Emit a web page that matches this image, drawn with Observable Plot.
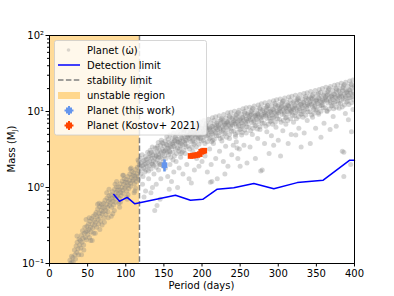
<!DOCTYPE html>
<html>
<head>
<meta charset="utf-8">
<script src="https://cdn.jsdelivr.net/npm/d3@7"></script>
<script src="https://cdn.jsdelivr.net/npm/@observablehq/plot@0.6"></script>
<style>
  html, body { margin: 0; padding: 0; background: #fff; }
  #chart { width: 394px; height: 296px; }
  svg { font-family: "DejaVu Sans", sans-serif; }
</style>
</head>
<body>
<div id="chart"></div>
<script>
// ---- data ----
const xTicks = [0, 50, 100, 150, 200, 250, 300, 350, 400];
const yTicks = [0.1, 1, 10, 100];
const yTickLabels = ["10\u207B\u00B9", "10\u2070", "10\u00B9", "10\u00B2"];
const yMinorTicks = [0.2,0.3,0.4,0.5,0.6,0.7,0.8,0.9,2,3,4,5,6,7,8,9,20,30,40,50,60,70,80,90];

const stabilityLimit = 118; // days

// Simulated planets (period days, mass M_J)
const planetsInner = [
 [25.4,0.095],[26.8,0.11],[27.5,0.10],[28.9,0.125],[29.3,0.105],[28.1,0.09],
 [30.6,0.12],[31.2,0.105],[32.7,0.15],[33.4,0.13],[34.1,0.115],[34.9,0.17],[35.8,0.14],[36.3,0.19],[37.5,0.155],[38.2,0.13],[38.8,0.21],[39.6,0.175],
 [40.4,0.20],[41.1,0.16],[41.9,0.235],[42.6,0.19],[43.3,0.27],[44.0,0.215],[44.8,0.175],[45.5,0.25],[46.3,0.30],[46.9,0.22],[47.7,0.26],[48.4,0.205],[49.1,0.31],[49.7,0.27],
 [50.3,0.24],[51.0,0.33],[51.8,0.28],[52.4,0.22],[53.1,0.36],[53.9,0.30],[54.5,0.26],[55.2,0.39],[55.9,0.33],[56.6,0.29],[57.3,0.42],[57.9,0.25],[58.6,0.37],[59.2,0.32],[59.8,0.44],[54.0,0.20],
 [60.5,0.35],[61.2,0.47],[61.8,0.30],[62.5,0.41],[63.1,0.52],[63.8,0.38],[64.4,0.33],[65.0,0.46],[65.7,0.56],[66.3,0.42],[67.0,0.36],[67.6,0.50],[68.3,0.60],[68.9,0.45],[69.5,0.55],[66.0,0.28],
 [70.2,0.48],[70.9,0.62],[71.5,0.40],[72.2,0.54],[72.8,0.68],[73.5,0.50],[74.1,0.44],[74.8,0.60],[75.4,0.73],[76.1,0.55],[76.7,0.48],[77.4,0.66],[78.0,0.78],[78.7,0.58],[79.3,0.70],[77.0,0.40],
 [80.1,0.63],[80.8,0.80],[81.4,0.55],[82.1,0.72],[82.7,0.88],[83.4,0.66],[84.0,0.59],[84.7,0.78],[85.3,0.95],[86.0,0.72],[86.6,0.64],[87.3,0.86],[87.9,1.02],[88.6,0.77],[89.2,0.92],[85.0,0.50],
 [90.1,0.82],[90.7,1.02],[91.4,0.72],[92.0,0.93],[92.7,1.12],[93.3,0.86],[94.0,0.78],[94.6,1.00],[95.3,1.22],[95.9,0.92],[96.6,0.84],[97.2,1.10],[97.9,1.30],[98.5,0.98],[99.2,1.17],[93.0,0.64],
 [100.1,1.03],[100.8,1.27],[101.4,0.90],[102.1,1.16],[102.7,1.40],[103.4,1.07],[104.0,0.97],[104.7,1.24],[105.3,1.50],[106.0,1.14],[106.6,1.04],[107.3,1.35],[107.9,1.62],[108.6,1.22],[109.2,1.44],[103.0,0.80],
 [110.1,1.26],[110.7,1.55],[111.4,1.12],[112.0,1.42],[112.7,1.72],[113.3,1.32],[114.0,1.20],[114.6,1.52],[115.3,1.85],[115.9,1.40],[116.6,1.28],[117.2,1.65],[117.8,1.98],[113.0,0.98],
 [36,0.23],[42,0.13],[45,0.15],[48,0.38],[52,0.40],[56,0.20],[60,0.25],[63,0.60],[65,0.62],[69,0.32],[72,0.35],[75,0.85],[78,0.95],[81,0.42],[83,0.45],[86,1.1],[88,1.2],[91,0.62],[92,0.55],[96,1.45],[97,1.45],[101,0.75],[102,0.7],[106,1.75],[107,1.8],[111,0.85],[112,0.9],[116,2.3],[117,2.2]
];
const planetsOuter = [
 [118.4,1.9],[119.1,2.4],[119.7,1.5],[120.2,2.1],[120.9,1.75],[121.5,2.7],[122.0,1.95],[122.6,1.4],[123.3,2.25],[123.8,1.8],[124.4,2.0],[125.1,1.6],[125.7,2.55],[126.2,2.05],[126.9,1.7],[127.4,2.35],[128.0,1.9],[128.7,2.9],[129.2,2.15],[129.8,1.65],
 [130.3,2.5],[130.8,1.9],[131.6,2.2],[132.1,3.1],[132.5,2.6],[133.2,1.75],[133.9,2.4],[134.3,2.05],[134.8,3.4],[135.6,2.7],[136.0,2.25],[136.7,1.95],[137.3,2.9],[137.8,2.45],[138.5,3.3],[138.9,2.15],[139.4,2.6],[139.9,1.85],[131.0,2.8],[135.2,2.0],
 [140.2,2.6],[140.9,3.3],[141.3,2.3],[142.0,2.95],[142.6,3.9],[143.1,2.7],[143.7,2.1],[144.4,3.1],[144.9,2.5],[145.5,3.6],[146.1,2.85],[146.6,4.2],[147.2,2.4],[147.9,3.2],[148.3,2.75],[148.8,3.8],[149.5,2.2],[149.9,3.0],[141.7,3.5],[145.0,2.0],
 [150.4,3.5],[150.9,2.6],[151.6,4.1],[152.2,3.1],[152.7,2.4],[153.3,3.7],[153.8,4.7],[154.5,2.9],[155.0,3.3],[155.7,4.3],[156.1,2.7],[156.8,3.9],[157.4,3.0],[157.9,4.9],[158.5,3.4],[159.1,2.5],[159.6,3.8],[151.2,3.0],[154.1,3.6],[158.0,2.9],
 [160.3,3.4],[160.9,4.4],[161.4,2.9],[162.0,3.9],[162.7,5.2],[163.2,3.5],[163.8,2.6],[164.5,4.1],[165.0,3.2],[165.6,4.8],[166.2,3.7],[166.9,2.8],[167.3,4.3],[167.9,3.3],[168.6,5.4],[169.1,3.9],[169.7,3.0],[161.7,3.7],[164.9,4.6],[168.2,4.0],
 [170.4,4.3],[170.8,3.2],[171.5,5.0],[172.1,3.8],[172.6,2.8],[173.3,4.5],[173.9,5.8],[174.4,3.6],[175.0,4.1],[175.7,5.3],[176.2,3.1],[176.8,4.7],[177.5,3.9],[178.0,6.0],[178.6,4.2],[179.2,3.4],[179.8,4.9],[171.0,4.0],[174.9,4.4],[177.9,3.7],
 [180.3,4.2],[180.9,5.4],[181.5,3.5],[182.0,4.8],[182.6,6.4],[183.2,4.4],[183.7,3.2],[184.3,5.1],[185.0,4.0],[185.5,5.9],[186.1,4.6],[186.8,3.4],[187.3,5.3],[187.9,4.1],[188.4,6.7],[189.0,4.9],[189.7,3.7],[181.0,4.6],[184.8,5.6],[188.0,4.3],
 [190.2,5.2],[190.8,3.9],[191.4,6.1],[192.0,4.6],[192.5,3.4],[193.1,5.5],[193.8,7.1],[194.3,4.3],[194.9,5.0],[195.6,6.5],[196.1,3.7],[196.7,5.7],[197.3,4.7],[197.8,7.3],[198.5,5.1],[199.1,4.1],[199.6,6.0],[191.0,4.9],[194.0,5.4],[198.0,4.4],
 [200.3,5.0],[200.9,6.5],[201.5,4.2],[202.1,5.7],[202.6,7.6],[203.2,5.2],[203.8,3.8],[204.4,6.1],[205.0,4.8],[205.6,7.0],[206.1,5.5],[206.8,4.0],[207.3,6.3],[207.9,4.9],[208.5,7.9],[209.0,5.8],[209.6,4.4],[201.0,5.4],[204.9,6.7],[208.1,5.1],
 [210.2,6.1],[210.8,4.5],[211.4,7.1],[212.0,5.4],[212.6,4.0],[213.2,6.4],[213.7,8.3],[214.3,5.0],[214.9,5.8],[215.5,7.6],[216.1,4.3],[216.7,6.7],[217.3,5.5],[217.9,8.5],[218.4,6.0],[219.0,4.8],[219.6,7.0],[211.0,5.7],[214.0,6.3],[218.0,5.2],
 [220.3,5.8],[220.9,7.5],[221.5,4.8],[222.1,6.6],[222.6,8.8],[223.2,6.0],[223.8,4.4],[224.4,7.0],[225.0,5.5],[225.6,8.1],[226.1,6.3],[226.8,4.6],[227.3,7.3],[227.9,5.7],[228.5,9.1],[229.0,6.7],[229.6,5.1],[221.0,6.2],[224.9,7.7],[228.1,5.9],
 [230.2,7.0],[230.8,5.2],[231.4,8.2],[232.0,6.2],[232.6,4.6],[233.2,7.4],[233.7,9.6],[234.3,5.8],[234.9,6.7],[235.5,8.8],[236.1,5.0],[236.7,7.7],[237.3,6.4],[237.9,9.8],[238.4,6.9],[239.0,5.5],[239.6,8.1],[231.0,6.6],[234.0,7.2],[238.0,6.0],
 [240.3,6.7],[240.9,8.6],[241.5,5.5],[242.1,7.6],[242.6,10.1],[243.2,6.9],[243.8,5.0],[244.4,8.1],[245.0,6.3],[245.6,9.3],[246.1,7.2],[246.8,5.3],[247.3,8.4],[247.9,6.5],[248.5,10.4],[249.0,7.7],[249.6,5.8],[241.0,7.1],[244.9,8.9],[248.1,6.8],
 [250.2,8.0],[250.8,5.9],[251.4,9.3],[252.0,7.1],[252.6,5.3],[253.2,8.4],[253.7,10.9],[254.3,6.6],[254.9,7.6],[255.5,10.0],[256.1,5.7],[256.7,8.8],[257.3,7.3],[257.9,11.2],[258.4,7.9],[259.0,6.3],[259.6,9.2],[251.0,7.5],[254.0,8.2],[258.0,6.9],
 [260.3,7.5],[260.9,9.7],[261.5,6.2],[262.1,8.5],[262.6,11.4],[263.2,7.8],[263.8,5.6],[264.4,9.1],[265.0,7.1],[265.6,10.5],[266.1,8.1],[266.8,6.0],[267.3,9.4],[267.9,7.3],[268.5,11.8],[269.0,8.7],[269.6,6.5],[261.0,8.0],[264.9,10.0],[268.1,7.6],
 [270.2,8.9],[270.8,6.6],[271.4,10.4],[272.0,7.9],[272.6,5.9],[273.2,9.4],[273.7,12.2],[274.3,7.4],[274.9,8.5],[275.5,11.2],[276.1,6.3],[276.7,9.9],[277.3,8.2],[277.9,12.6],[278.4,8.8],[279.0,7.0],[279.6,10.3],[271.0,8.4],[274.0,9.2],[278.0,7.7],
 [280.3,8.6],[280.9,11.0],[281.5,7.0],[282.1,9.7],[282.6,13.0],[283.2,8.9],[283.8,6.4],[284.4,10.4],[285.0,8.1],[285.6,12.0],[286.1,9.3],[286.8,6.8],[287.3,10.8],[287.9,8.3],[288.5,13.4],[289.0,9.9],[289.6,7.4],[281.0,9.1],[284.9,11.4],[288.1,8.7],
 [290.2,10.2],[290.8,7.5],[291.4,11.9],[292.0,9.0],[292.6,6.8],[293.2,10.7],[293.7,13.9],[294.3,8.4],[294.9,9.7],[295.5,12.8],[296.1,7.2],[296.7,11.3],[297.3,9.3],[297.9,14.3],[298.4,10.0],[299.0,8.0],[299.6,11.7],[291.0,9.6],[294.0,10.5],[298.0,8.8],
 [300.3,9.6],[300.9,12.4],[301.5,7.9],[302.1,10.9],[302.6,14.6],[303.2,10.0],[303.8,7.2],[304.4,11.6],[305.0,9.1],[305.6,13.4],[306.1,10.4],[306.8,7.6],[307.3,12.0],[307.9,9.3],[308.5,15.0],[309.0,11.1],[309.6,8.3],[301.0,10.2],[304.9,12.8],[308.1,9.8],
 [310.2,11.3],[310.8,8.4],[311.4,13.2],[312.0,10.0],[312.6,7.6],[313.2,11.9],[313.7,15.5],[314.3,9.4],[314.9,10.8],[315.5,14.2],[316.1,8.0],[316.7,12.6],[317.3,10.4],[317.9,15.9],[318.4,11.1],[319.0,8.9],[319.6,13.0],[311.0,10.7],[314.0,11.7],[318.0,9.8],
 [320.3,10.8],[320.9,13.9],[321.5,8.8],[322.1,12.1],[322.6,16.3],[323.2,11.1],[323.8,8.0],[324.4,13.0],[325.0,10.1],[325.6,15.0],[326.1,11.6],[326.8,8.5],[327.3,13.5],[327.9,10.4],[328.5,16.8],[329.0,12.4],[329.6,9.2],[321.0,11.4],[324.9,14.3],[328.1,10.9],
 [330.2,12.6],[330.8,9.3],[331.4,14.7],[332.0,11.2],[332.6,8.4],[333.2,13.3],[333.7,17.2],[334.3,10.4],[334.9,12.0],[335.5,15.8],[336.1,8.9],[336.7,14.0],[337.3,11.6],[337.9,17.7],[338.4,12.4],[339.0,9.9],[339.6,14.5],[331.0,11.9],[334.0,13.0],[338.0,10.9],
 [340.3,12.1],[340.9,15.6],[341.5,9.9],[342.1,13.6],[342.6,18.3],[343.2,12.5],[343.8,9.0],[344.4,14.6],[345.0,11.4],[345.6,16.9],[346.1,13.1],[346.8,9.5],[347.3,15.2],[347.9,11.7],[348.5,18.9],[349.0,13.9],[349.6,10.4],[341.0,12.8],[344.9,16.1],[348.1,12.2],
 [350.2,14.3],[350.8,10.6],[351.4,16.7],[352.0,12.7],[352.6,9.6],[353.2,15.0],[353.7,19.5],[354.3,11.8],[354.9,13.6],[355.5,17.9],[356.1,10.1],[356.7,15.8],[357.3,13.1],[357.9,20.1],[358.4,14.1],[359.0,11.2],[359.6,16.4],[351.0,13.5],[354.0,14.7],[358.0,12.3],
 [360.3,13.7],[360.9,17.7],[361.5,11.2],[362.1,15.4],[362.6,20.8],[363.2,14.2],[363.8,10.2],[364.4,16.5],[365.0,12.9],[365.6,19.1],[366.1,14.8],[366.8,10.8],[367.3,17.2],[367.9,13.3],[368.5,21.4],[369.0,15.8],[369.6,11.8],[361.0,14.5],[364.9,18.2],[368.1,13.9],
 [370.2,16.2],[370.8,12.0],[371.4,18.9],[372.0,14.4],[372.6,10.9],[373.2,17.0],[373.7,22.1],[374.3,13.4],[374.9,15.4],[375.5,20.3],[376.1,11.4],[376.7,17.9],[377.3,14.8],[377.9,22.7],[378.4,16.0],[379.0,12.7],[379.6,18.6],[371.0,15.3],[374.0,16.7],[378.0,13.9],
 [380.3,15.5],[380.9,20.0],[381.5,12.7],[382.1,17.4],[382.6,23.5],[383.2,16.0],[383.8,11.5],[384.4,18.7],[385.0,14.6],[385.6,21.6],[386.1,16.8],[386.8,12.2],[387.3,19.4],[387.9,15.0],[388.5,24.2],[389.0,17.8],[389.6,13.3],[381.0,16.4],[384.9,20.6],[388.1,15.7],
 [390.2,18.4],[390.8,13.6],[391.4,21.5],[392.0,16.4],[392.6,12.4],[393.2,19.3],[393.7,25.2],[394.3,15.2],[394.9,17.5],[395.5,23.0],[396.1,13.0],[396.7,20.4],[397.3,16.8],[397.9,25.9],[398.4,18.2],[399.0,14.4],[399.6,21.2],[391.0,17.4],[394.0,19.0],[398.0,15.8],
 [125.3,2.3],[133.6,2.9],[142.8,2.5],[147.5,3.9],[156.4,3.3],[163.9,4.2],[171.8,3.5],[176.5,5.6],[183.9,4.9],[189.4,5.7],[195.2,4.5],[202.9,4.6],[206.4,6.0],[212.9,5.1],[219.3,6.6],[223.5,5.3],[227.1,7.9],[232.4,7.1],[236.3,8.4],[243.6,7.5],[247.6,9.7],[252.8,6.4],[256.4,9.5],[262.9,8.9],[266.5,11.0],[272.9,9.0],[276.4,10.8],[283.6,9.5],[286.5,11.9],[292.9,8.2],[296.4,12.2],[302.9,11.2],[306.5,13.9],[312.8,12.3],[316.4,10.1],[322.9,9.6],[326.4,14.6],[332.8,10.0],[336.4,15.0],[342.9,14.9],[346.4,10.8],[352.8,17.2],[356.4,12.0],[362.8,16.0],[366.4,20.1],[372.8,12.8],[376.4,19.4],[382.8,14.1],[386.4,22.6],[392.8,15.0],[396.4,22.4]
];
const planetsLow = [
 [122,1.1],[126,0.9],[130,1.3],[133,0.85],[137,1.5],[140,1.1],[143,1.7],[146,1.3],[149,1.9],[124,0.75],[135,1.0],[145,2.0],[138,0.5],[141,0.58],[145,0.7],
 [152,1.8],[155,1.4],[158,2.0],[160,1.2],[163,1.6],[166,2.2],[168,1.0],[170,1.8],[172,2.5],[175,1.5],[178,2.8],[180,2.0],[183,1.3],[185,2.6],[188,3.0],[190,1.7],[193,2.4],[196,1.9],[199,3.1],[157,0.95],[186,1.15],[200,2.2],[162,2.3],[174,2.9],
 [204,2.6],[207,1.6],[210,3.2],[212,2.0],[215,3.8],[218,2.4],[220,1.3],[223,3.0],[226,4.1],[228,2.2],[231,3.5],[234,1.9],[236,4.4],[239,2.7],[241,3.6],[244,4.7],[247,2.4],[249,3.2],[252,4.9],[255,3.6],[258,5.2],[213,1.2],[230,1.5],[250,1.9],[214,4.2],[245,4.0],[211,1.17],[246,3.3],[259,2.1],
 [263,3.4],[266,5.0],[270,2.4],[273,4.4],[276,5.8],[279,1.7],[282,3.8],[285,5.4],[288,2.8],[291,4.8],[294,3.6],[297,6.2],[300,4.2],[303,2.6],[306,5.6],[310,6.8],[313,3.8],[317,5.0],[320,7.2],[323,4.9],[327,6.0],[330,3.4],[277,1.65],
 [334,5.2],[338,7.6],[342,3.8],[345,8.4],[349,6.0],[353,9.2],[356,4.6],[360,7.0],[364,10.0],[368,5.8],[372,8.6],[376,6.4],[380,11.0],[384,3.0],[386,2.9],[388,9.4],[392,7.8],[395,2.0],[398,10.6],[396,5.4],[386,1.4]
];
const planetPoints = planetsInner.concat(planetsOuter, planetsLow);

// Detection limit curve
const detPeriod = [84.3, 91.8, 101.9, 111.9, 165.2, 184.9, 201, 220, 241.7, 268, 294.2, 324.9, 359, 393.8, 400];
const detMass   = [0.81, 0.66, 0.74, 0.61, 0.79, 0.68, 0.70, 0.95, 0.99, 1.13, 0.96, 1.16, 1.25, 2.29, 2.29];

// Planet (this work)
const thisPeriod = [150.8];
const thisMass = [1.97];
const thisMassLo = [1.6];
const thisMassHi = [2.3];
const thisPeriodErr = [1.3];

// Planet (Kostov+ 2021)
const kostovPeriod = [185, 188, 191, 194, 197, 199, 201, 203];
const kostovMass   = [2.6, 2.62, 2.65, 2.68, 2.75, 2.95, 3.0, 3.05];
const kostovMassErr = [0.12, 0.12, 0.12, 0.12, 0.12, 0.14, 0.14, 0.14];
const kostovPeriodErr = [1, 1, 1, 1, 1, 1, 1, 1];

// ---- tables ----
const det = detPeriod.map((p, i) => ({p, m: detMass[i]}));
const thisPl = thisPeriod.map((p, i) => ({p, m: thisMass[i], lo: thisMassLo[i], hi: thisMassHi[i], pe: thisPeriodErr[i]}));
const kostov = kostovPeriod.map((p, i) => ({p, m: kostovMass[i], lo: kostovMass[i] - kostovMassErr[i], hi: kostovMass[i] + kostovMassErr[i], pe: kostovPeriodErr[i]}));

const blueC = "#6495ED";
const redC = "#FF4500";

const chart = Plot.plot({
  width: 394,
  height: 296,
  marginLeft: 49,
  marginRight: 40,
  marginTop: 35,
  marginBottom: 33,
  style: {fontFamily: "DejaVu Sans, sans-serif", fontSize: "10px", background: "#fff", color: "#000"},
  x: {domain: [0, 400]},
  y: {type: "log", domain: [0.1, 100]},
  marks: [
    Plot.rect([{x1: 0, x2: stabilityLimit}], {x1: "x1", x2: "x2", y1: 0.1, y2: 100, fill: "orange", fillOpacity: 0.4}),
    Plot.dot(planetPoints, {x: d => d[0], y: d => d[1], r: 2.5, fill: "gray", fillOpacity: 0.32, stroke: "none", clip: true}),
    Plot.ruleX([stabilityLimit], {stroke: "gray", strokeWidth: 1.5, strokeDasharray: "5.5,2.4"}),
    Plot.line(det, {x: "p", y: "m", stroke: "#0000FF", strokeWidth: 1.5}),
    Plot.ruleX(thisPl, {x: "p", y1: "lo", y2: "hi", stroke: blueC, strokeWidth: 2.5}),
    Plot.ruleY(thisPl, {y: "m", x1: d => d.p - d.pe, x2: d => d.p + d.pe, stroke: blueC, strokeWidth: 2.5}),
    Plot.dot(thisPl, {x: "p", y: "m", symbol: "square", r: 3.2, fill: blueC}),
    Plot.ruleX(kostov, {x: "p", y1: "lo", y2: "hi", stroke: redC, strokeWidth: 2.5}),
    Plot.ruleY(kostov, {y: "m", x1: d => d.p - d.pe, x2: d => d.p + d.pe, stroke: redC, strokeWidth: 2.5}),
    Plot.dot(kostov, {x: "p", y: "m", symbol: "square", r: 3.2, fill: redC}),
    Plot.frame({stroke: "#000", strokeWidth: 1}),
    Plot.axisX({ticks: xTicks, tickSize: 3.5, tickPadding: 2.5, label: null}),
    Plot.axisY({ticks: yTicks, tickFormat: (d) => yTickLabels[yTicks.indexOf(d)], tickSize: 3.5, tickPadding: 2, label: null}),
    Plot.axisY({ticks: yMinorTicks, tickFormat: () => "", tickSize: 2, label: null})
  ]
});

document.getElementById("chart").appendChild(chart);

// ---- labels and legend ----
const svg = d3.select(chart);
svg.append("text").attr("x", 201.5).attr("y", 289).attr("text-anchor", "middle")
  .attr("font-size", 10).attr("fill", "#000").text("Period (days)");
const yl = svg.append("text").attr("transform", "translate(15,149) rotate(-90)")
  .attr("text-anchor", "middle").attr("font-size", 10).attr("fill", "#000");
yl.append("tspan").text("Mass (M");
yl.append("tspan").attr("font-size", 7).attr("dy", 2).text("J");
yl.append("tspan").attr("dy", -2).text(")");

const lg = svg.append("g").attr("text-anchor", "start");
lg.append("rect").attr("x", 54.5).attr("y", 40.5).attr("width", 152).attr("height", 94.5)
  .attr("rx", 2).attr("fill", "#fff").attr("fill-opacity", 0.8).attr("stroke", "#ccc").attr("stroke-width", 0.8);
const rows = [50, 65, 80, 95.5, 110.5, 125.5];
const labels = ["Planet (\u03C9\u0307)", "Detection limit", "stability limit", "unstable region", "Planet (this work)", "Planet (Kostov+ 2021)"];
labels.forEach((t, i) => {
  lg.append("text").attr("x", 87).attr("y", rows[i]).attr("dy", "0.35em").attr("text-anchor", "start")
    .attr("font-size", 10).attr("fill", "#000").text(t);
});
lg.append("circle").attr("cx", 68.5).attr("cy", rows[0]).attr("r", 1.8).attr("fill", "gray").attr("fill-opacity", 0.3);
lg.append("line").attr("x1", 58).attr("x2", 80).attr("y1", rows[1]).attr("y2", rows[1]).attr("stroke", "#0000FF").attr("stroke-width", 1.5);
lg.append("line").attr("x1", 58).attr("x2", 80).attr("y1", rows[2]).attr("y2", rows[2]).attr("stroke", "gray").attr("stroke-width", 1.5).attr("stroke-dasharray", "5.5,2.4");
lg.append("rect").attr("x", 58).attr("y", rows[3] - 3.5).attr("width", 22).attr("height", 7).attr("fill", "orange").attr("fill-opacity", 0.4);
[[rows[4], blueC], [rows[5], redC]].forEach(([y, c]) => {
  lg.append("line").attr("x1", 69).attr("x2", 69).attr("y1", y - 4.5).attr("y2", y + 4.5).attr("stroke", c).attr("stroke-width", 2);
  lg.append("line").attr("x1", 64.5).attr("x2", 73.5).attr("y1", y).attr("y2", y).attr("stroke", c).attr("stroke-width", 2);
  lg.append("rect").attr("x", 66).attr("y", y - 3).attr("width", 6).attr("height", 6).attr("fill", c);
});
</script>
</body>
</html>
